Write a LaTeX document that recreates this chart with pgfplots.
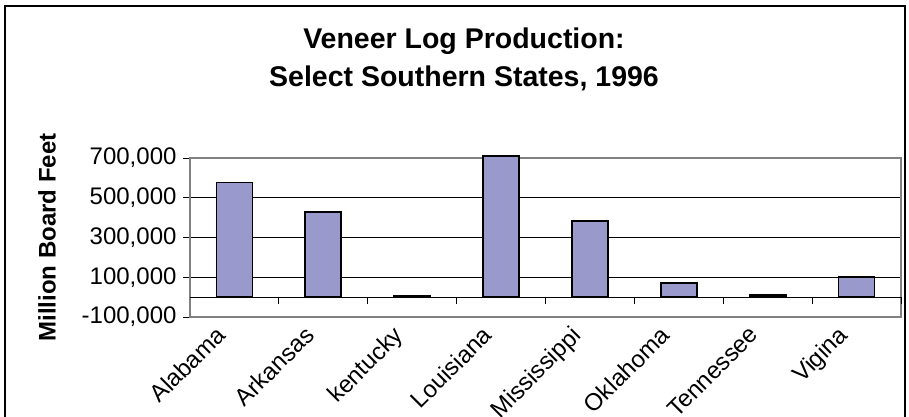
\documentclass[border=0pt]{standalone}
\usepackage{pgfplots}
\pgfplotsset{compat=1.18}
\usepackage{fontspec}
\setmainfont{Liberation Sans}
\definecolor{barfill}{RGB}{153,153,204}
\definecolor{framegray}{RGB}{128,128,128}
\begin{document}
\begin{tikzpicture}[x=1pt,y=1pt]
\clip (0,0) rectangle (909,417);
\draw[black, line width=1.2pt] (5,411) rectangle (905,-20);
\node[font=\fontsize{28.5}{34}\selectfont\bfseries, anchor=base] at (464,368) {Veneer Log Production:};
\node[font=\fontsize{28.5}{34}\selectfont\bfseries, anchor=base] at (464,330) {Select Southern States, 1996};
\node[font=\fontsize{24}{28}\selectfont\bfseries, rotate=90] at (47,179.5) {Million Board Feet};
\begin{axis}[
  at={(190pt,100pt)}, anchor=south west, scale only axis,
  width=711pt, height=159pt,
  xmin=0.5, xmax=8.5, ymin=-100000, ymax=700000,
  enlargelimits=false, clip=false,
  scaled y ticks=false,
  axis line style={framegray, line width=1.3pt},
  xtick={1,2,3,4,5,6,7,8},
  xticklabels={Alabama,Arkansas,kentucky,Louisiana,Mississippi,Oklahoma,Tennessee,Vigina},
  x tick label style={xshift=-20pt, yshift=1pt, rotate=45, anchor=north east, font=\fontsize{24}{28}\selectfont, inner sep=1pt},
  xtick style={draw=none},
  ytick={-100000,100000,300000,500000,700000},
  yticklabels={{-100,000},{100,000},{300,000},{500,000},{700,000}},
  y tick label style={font=\fontsize{24}{28}\selectfont, xshift=-3pt},
  ytick pos=left, tick align=outside, major tick length=7pt,
  ytick style={black, line width=0.8pt},
  ymajorgrids, grid style={black, line width=0.8pt},
]
\draw[black, line width=1pt] (axis cs:0.5,0) -- (axis cs:8.5,0);
\pgfplotsinvokeforeach{1.5,2.5,3.5,4.5,5.5,6.5,7.5,8.5}{
  \draw[black, line width=0.8pt] (axis cs:#1,0) -- ++(0pt,-7pt);
}
\addplot[ybar, bar width=36pt, fill=barfill, draw=black, line width=1.8pt]
  coordinates {(1,577000) (2,429000) (3,6000) (4,712000) (5,385000) (6,73000) (7,11000) (8,103000)};
\end{axis}
\end{tikzpicture}
\end{document}
